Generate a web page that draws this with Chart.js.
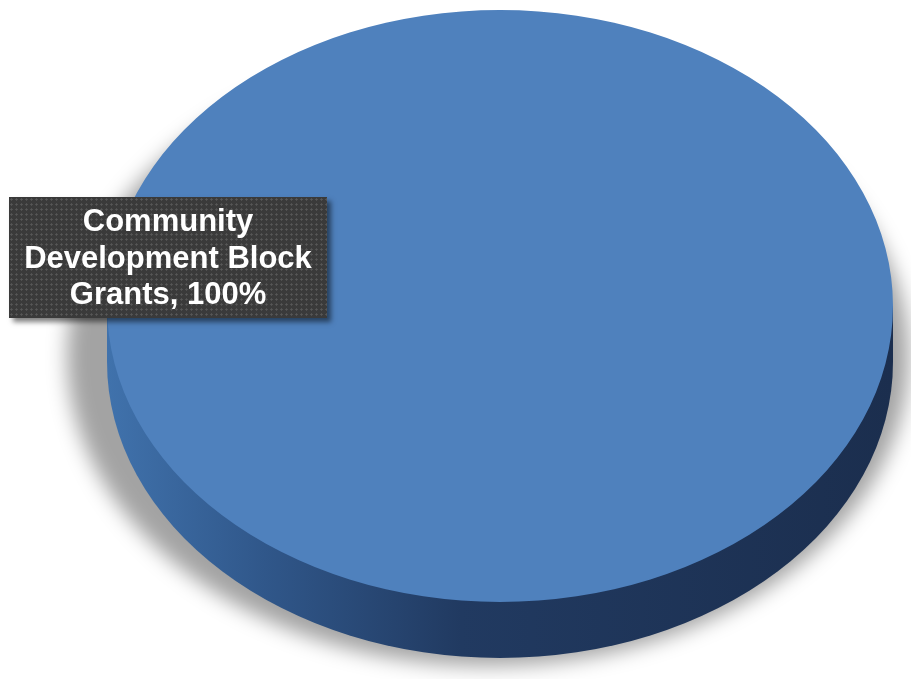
<!DOCTYPE html>
<html>
<head>
<meta charset="utf-8">
<script src="https://cdn.jsdelivr.net/npm/chart.js@4"></script>
<style>
    body { margin: 0; background: #fff; }
    #wrap { position: relative; width: 911px; height: 679px; }
    #pie-label {
        position: absolute;
        left: 9px; top: 197px;
        width: 318px; height: 121px;
        box-sizing: border-box;
        padding-top: 6px;
        background-color: #3a3a3a;
        background-image: radial-gradient(circle, #575757 0.9px, transparent 1.3px);
        background-size: 5px 5px;
        box-shadow: 4px 4px 5px rgba(0, 0, 0, 0.5);
        color: #fff;
        font: bold 31px "Liberation Sans", Arial, sans-serif;
        line-height: 36.5px;
        text-align: center;
    }
</style>
</head>
<body>
<div id="wrap">
    <canvas id="chart" width="911" height="679"></canvas>
    <div id="pie-label"></div>
</div>
<script>
const categories = ['Community Development Block Grants'];
const shares = [100];
const labelLines = ['Community', 'Development Block', 'Grants, 100%'];

// size of the tilted disc on screen
const RX = 393;
const RY = 296;
const DEPTH = 56;

// fake 3D: shadow + side wall under the slice, then squash the slice into an ellipse
const pie3d = {
    id: 'pie3d',
    beforeDatasetsDraw(chart) {
        const ctx = chart.ctx;
        const arc = chart.getDatasetMeta(0).data[0];
        const x = arc.x, y = arc.y, r = arc.outerRadius;

        // soft shadow, mostly on the lower left and under the wall
        ctx.save();
        ctx.filter = 'blur(10px)';
        ctx.fillStyle = 'rgba(0, 0, 0, 0.36)';
        ctx.beginPath();
        ctx.ellipse(x - 12, y + DEPTH / 2 + 22, RX + 28, RY + 14, 0, 0, Math.PI * 2);
        ctx.fill();
        ctx.restore();

        // side wall
        const grad = ctx.createLinearGradient(x - RX, 0, x + RX, 0);
        grad.addColorStop(0, '#4072ac');
        grad.addColorStop(0.2, '#30578a');
        grad.addColorStop(0.45, '#213a61');
        grad.addColorStop(1, '#1b2e4e');
        ctx.save();
        ctx.fillStyle = grad;
        ctx.fillRect(x - RX, y, RX * 2, DEPTH);
        ctx.beginPath();
        ctx.ellipse(x, y + DEPTH, RX, RY, 0, 0, Math.PI * 2);
        ctx.fill();
        ctx.restore();

        ctx.save();
        ctx.translate(x, y);
        ctx.scale(RX / r, RY / r);
        ctx.translate(-x, -y);
    },
    afterDatasetsDraw(chart) {
        chart.ctx.restore();
    }
};

new Chart(document.getElementById('chart'), {
    type: 'pie',
    data: {
        labels: categories,
        datasets: [{
            data: shares,
            backgroundColor: '#4f81bd',
            borderWidth: 0
        }]
    },
    options: {
        responsive: false,
        animation: false,
        layout: { padding: { left: 200, right: 111, top: 6, bottom: 73 } },
        plugins: {
            legend: { display: false },
            tooltip: { enabled: false }
        }
    },
    plugins: [pie3d]
});

document.getElementById('pie-label').innerHTML = labelLines.join('<br>');
</script>
</body>
</html>
